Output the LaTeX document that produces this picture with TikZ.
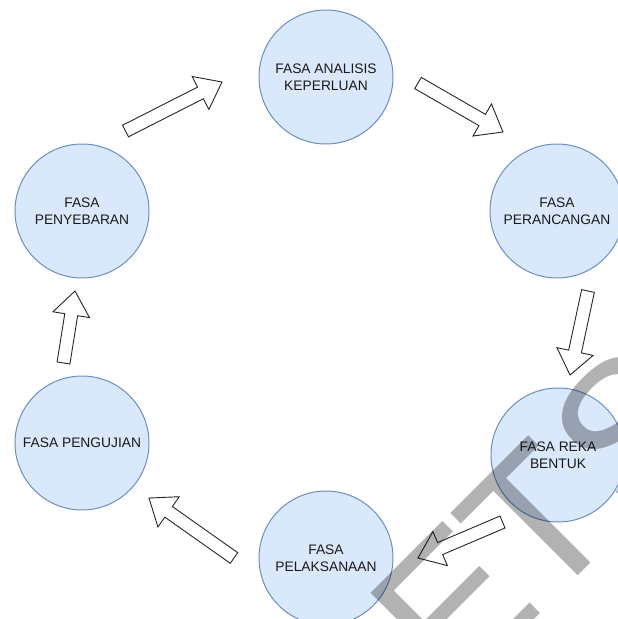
\documentclass[tikz,border=0pt]{standalone}
\usepackage{fontspec}
\setmainfont{Liberation Sans}
\usetikzlibrary{calc}
\definecolor{nodefill}{HTML}{DAE8FC}
\definecolor{nodeline}{HTML}{6C8EBF}
\tikzset{
  phase/.style={circle, draw=nodeline, fill=nodefill, line width=1pt,
    minimum size=134pt, inner sep=0pt, align=center, text=black!90,
    font=\fontsize{13.8}{17.5}\selectfont},
  blockarrow/.style={draw=black!85, fill=white, line width=0.9pt, line join=miter},
  wmletter/.style={anchor=base west, inner sep=0pt, text=black,
    opacity=0.3, font=\fontsize{195}{195}\selectfont},
}
\newcommand\blockarr[2]{%
  \draw[blockarrow] let \p1=($(#2)-(#1)$), \n1={atan2(\y1,\x1)}, \n2={veclen(\x1,\y1)} in
    ($(#1)+(\n1+90:6.5pt)$)
    -- ($(#1)+(\n1:{\n2-24pt})+(\n1+90:6.5pt)$)
    -- ($(#1)+(\n1:{\n2-24pt})+(\n1+90:18.5pt)$)
    -- (#2)
    -- ($(#1)+(\n1:{\n2-24pt})+(\n1-90:18.5pt)$)
    -- ($(#1)+(\n1:{\n2-24pt})+(\n1-90:6.5pt)$)
    -- ($(#1)+(\n1-90:6.5pt)$)
    -- cycle;}
\begin{document}
\begin{tikzpicture}[x=1pt, y=-1pt]
\useasboundingbox (0,0) rectangle (618,619);
\begin{scope}
\clip (0,0) rectangle (618,619);
% phases
\node[phase] (ana) at (326,77)  {FASA ANALISIS\\KEPERLUAN};
\node[phase] (per) at (557,211) {FASA\\PERANCANGAN};
\node[phase] (rek) at (558,455) {FASA REKA\\BENTUK};
\node[phase] (pel) at (326,558) {FASA\\PELAKSANAAN};
\node[phase] (pen) at (82,443)  {FASA PENGUJIAN};
\node[phase] (pny) at (82,211)  {FASA\\PENYEBARAN};
% arrow end points
\coordinate (a1s) at (125.5,131);  \coordinate (a1e) at (222,82);
\coordinate (a2s) at (418,83);     \coordinate (a2e) at (503,132);
\coordinate (a3s) at (588,291);    \coordinate (a3e) at (570,375);
\coordinate (a4s) at (502.5,522);  \coordinate (a4e) at (418,558);
\coordinate (a5s) at (234,558);    \coordinate (a5e) at (149,498);
\coordinate (a6s) at (63.5,363);   \coordinate (a6e) at (75,291);
\blockarr{a1s}{a1e}
\blockarr{a2s}{a2e}
\blockarr{a3s}{a3e}
\blockarr{a4s}{a4e}
\blockarr{a5s}{a5e}
\blockarr{a6s}{a6e}
% watermark
\begin{scope}[shift={(367,590)}, rotate=45, transform shape]
  \node[wmletter] (wmE) at (-15.4,139.6) {E};
  \node[wmletter] (wmT) at (108.5,139.6) {T};
  \node[wmletter] (wmS) at (236,139.6) {S};
\end{scope}
\end{scope}
\end{tikzpicture}
\end{document}
